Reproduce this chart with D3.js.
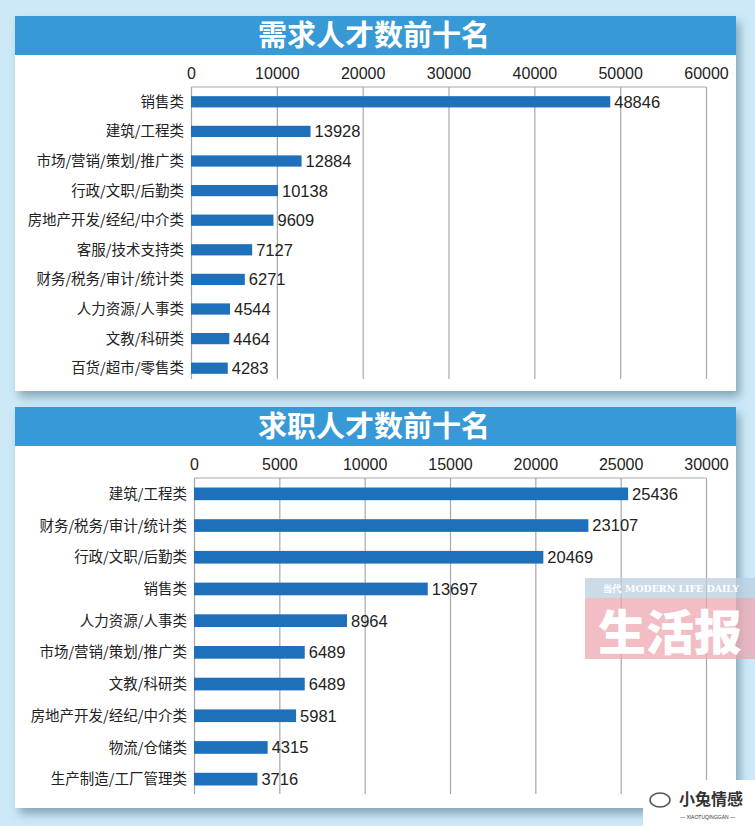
<!DOCTYPE html>
<html>
<head>
<meta charset="utf-8">
<script src="https://cdn.jsdelivr.net/npm/d3@7"></script>
<style>
  body { margin: 0; background: #cde9f7; }
  svg { display: block; }
  .tick text { font-family: "Liberation Sans", Arial, sans-serif; fill: #222; }
</style>
</head>
<body>
<div id="chart"></div>
<script>
// demand panel
const demandTitle = "需求人才数前十名";
const demandCategories = ["销售类", "建筑/工程类", "市场/营销/策划/推广类", "行政/文职/后勤类", "房地产开发/经纪/中介类",
  "客服/技术支持类", "财务/税务/审计/统计类", "人力资源/人事类", "文教/科研类", "百货/超市/零售类"];
const demandValues = [48846, 13928, 12884, 10138, 9609, 7127, 6271, 4544, 4464, 4283];
const demandTicks = [0, 10000, 20000, 30000, 40000, 50000, 60000];

// supply panel
const supplyTitle = "求职人才数前十名";
const supplyCategories = ["建筑/工程类", "财务/税务/审计/统计类", "行政/文职/后勤类", "销售类", "人力资源/人事类",
  "市场/营销/策划/推广类", "文教/科研类", "房地产开发/经纪/中介类", "物流/仓储类", "生产制造/工厂管理类"];
const supplyValues = [25436, 23107, 20469, 13697, 8964, 6489, 6489, 5981, 4315, 3716];
const supplyTicks = [0, 5000, 10000, 15000, 20000, 25000, 30000];

const W = 755, H = 826;
const svg = d3.select("#chart").append("svg").attr("width", W).attr("height", H);

// soft shadow under the white panels
const defs = svg.append("defs");
const f = defs.append("filter").attr("id", "shadow")
  .attr("x", "-5%").attr("y", "-5%").attr("width", "115%").attr("height", "120%");
f.append("feDropShadow").attr("dx", 4).attr("dy", 6).attr("stdDeviation", 5)
  .attr("flood-color", "#4a6f86").attr("flood-opacity", 0.55);

svg.append("rect").attr("width", W).attr("height", H).attr("fill", "#cde9f7");

function panel(opts) {
  const g = svg.append("g");
  // panel box
  g.append("rect")
    .attr("x", 15).attr("y", opts.top)
    .attr("width", 721).attr("height", opts.bottom - opts.top)
    .attr("fill", "#fff").attr("filter", "url(#shadow)");
  g.append("rect")
    .attr("x", 15).attr("y", opts.top)
    .attr("width", 721).attr("height", 39)
    .attr("fill", "#3799d5");
  g.append("text")
    .attr("x", 374).attr("y", opts.top + 30)
    .attr("text-anchor", "middle")
    .style("font-family", "'Noto Sans CJK SC', sans-serif")
    .style("font-weight", "bold")
    .style("font-size", "29px")
    .attr("fill", "#fff")
    .text(opts.title);

  const x = d3.scaleLinear()
    .domain([0, opts.ticks[opts.ticks.length - 1]])
    .range([opts.x0, 706]);
  const y = d3.scaleBand()
    .domain(opts.categories)
    .range([opts.gridTop, opts.gridTop + opts.step * opts.categories.length])
    .paddingInner(opts.pad).paddingOuter(opts.pad / 2);

  // gridlines + top tick labels
  const axis = d3.axisTop(x)
    .tickValues(opts.ticks)
    .tickSize(-(opts.gridBottom - opts.gridTop))
    .tickPadding(6)
    .tickFormat(d3.format("d"));
  const ax = g.append("g")
    .attr("transform", "translate(0," + opts.gridTop + ")")
    .call(axis);
  ax.select(".domain").remove();
  ax.selectAll(".tick line").attr("stroke", "#a8a8a8").attr("stroke-width", 1.2);
  ax.selectAll(".tick text").style("font-size", "16px").attr("dy", "-0.1em");
  // top frame line
  g.append("line")
    .attr("x1", x(0)).attr("x2", x.range()[1])
    .attr("y1", opts.gridTop).attr("y2", opts.gridTop)
    .attr("stroke", "#a8a8a8").attr("stroke-width", 1.2);

  // category labels
  g.selectAll(".cat")
    .data(opts.categories)
    .enter()
      .append("text")
      .classed("cat", true)
      .attr("x", opts.x0 - 7)
      .attr("y", d => y(d) + y.bandwidth() / 2)
      .attr("dy", "0.35em")
      .attr("text-anchor", "end")
      .style("font-family", "'Noto Sans CJK SC', sans-serif")
      .style("font-size", "14.5px")
      .attr("fill", "#222")
      .text(d => d);

  // bars
  g.selectAll(".bar")
    .data(opts.values)
    .enter()
      .append("rect")
      .classed("bar", true)
      .attr("x", x(0))
      .attr("y", (d, i) => y(opts.categories[i]))
      .attr("width", d => x(d) - x(0))
      .attr("height", y.bandwidth())
      .attr("fill", "#1f70ba");

  // value labels
  g.selectAll(".val")
    .data(opts.values)
    .enter()
      .append("text")
      .classed("val", true)
      .attr("x", d => x(d) + 4)
      .attr("y", (d, i) => y(opts.categories[i]) + y.bandwidth() / 2)
      .attr("dy", "0.36em")
      .style("font-family", "'Liberation Sans', Arial, sans-serif")
      .style("font-size", "16.5px")
      .attr("fill", "#222")
      .text(d => d);
}

panel({
  title: demandTitle, categories: demandCategories, values: demandValues, ticks: demandTicks,
  top: 16, bottom: 391, x0: 191, gridTop: 87, gridBottom: 379, step: 29.6, pad: 0.62
});
panel({
  title: supplyTitle, categories: supplyCategories, values: supplyValues, ticks: supplyTicks,
  top: 407, bottom: 808, x0: 194, gridTop: 478, gridBottom: 794, step: 31.7, pad: 0.6
});

// newspaper watermark
const wm = svg.append("g");
wm.append("rect").attr("x", 585).attr("y", 578).attr("width", 170).attr("height", 20)
  .attr("fill", "#b9cfe0").attr("opacity", 0.75);
wm.append("rect").attr("x", 585).attr("y", 598).attr("width", 170).attr("height", 61)
  .attr("fill", "#eda4ad").attr("opacity", 0.72);
wm.append("text").attr("x", 603).attr("y", 592)
  .style("font-family", "'DejaVu Serif', serif").style("font-size", "10px").style("font-weight", "bold")
  .attr("textLength", 136).attr("lengthAdjust", "spacingAndGlyphs")
  .attr("fill", "#fff").text("当代 MODERN LIFE DAILY");
wm.append("text").attr("x", 598).attr("y", 650)
  .style("font-family", "'Noto Sans CJK SC', serif").style("font-size", "48px").style("font-weight", "900")
  .attr("fill", "#fff").text("生活报");

// corner logo
const logo = svg.append("g");
logo.append("rect").attr("x", 643).attr("y", 780).attr("width", 112).attr("height", 46).attr("fill", "#fff");
logo.append("text").attr("x", 679).attr("y", 805)
  .style("font-family", "'Noto Sans CJK SC', sans-serif").style("font-size", "16px").style("font-weight", "bold")
  .attr("fill", "#333").text("小兔情感");
logo.append("text").attr("x", 680).attr("y", 819)
  .style("font-family", "'Liberation Sans', sans-serif").style("font-size", "5px")
  .attr("fill", "#333").text("— XIAOTUQINGGAN —");
logo.append("ellipse").attr("cx", 660).attr("cy", 800).attr("rx", 10).attr("ry", 7)
  .attr("fill", "none").attr("stroke", "#555").attr("stroke-width", 1.5);
</script>
</body>
</html>
